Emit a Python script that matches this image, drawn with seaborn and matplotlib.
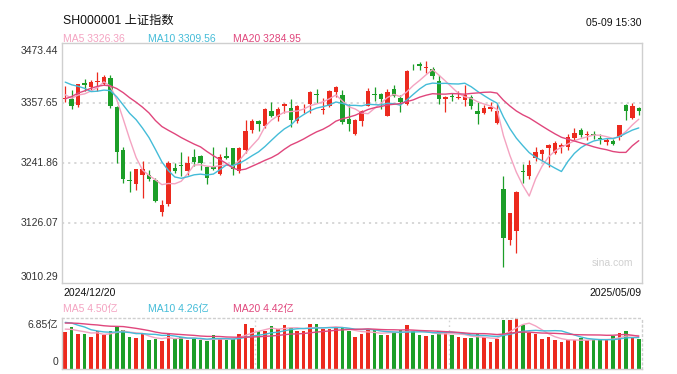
import numpy as np
import pandas as pd
import matplotlib
matplotlib.use("Agg")
import matplotlib.pyplot as plt
import matplotlib.transforms as mtransforms
import seaborn as sns

# ---------------- data ----------------
start_label = "2024/12/20"
end_label = "2025/05/09"
time_label = "05-09 15:30"
title = "SH000001 上证指数"

opens = [3366, 3365, 3353, 3396, 3388, 3398, 3395, 3406, 3349, 3266,
         3209, 3202, 3219, 3219, 3210, 3148, 3163, 3232, 3238, 3226,
         3253, 3256, 3234, 3236, 3221, 3256, 3270, 3226, 3266, 3306,
         3322, 3313, 3343, 3331, 3352, 3348, 3322, 3349, 3356, 3375,
         3344, 3351, 3378, 3374, 3327, 3298, 3323, 3352, 3374, 3375,
         3333, 3385, 3368, 3356, 3428, 3432, 3425, 3424, 3401, 3366,
         3371, 3367, 3363, 3369, 3343, 3338, 3347, 3319, 3192, 3094,
         3110, 3226, 3217, 3252, 3260, 3270, 3261, 3272, 3273, 3291,
         3306, 3296, 3298, 3291, 3283, 3284, 3293, 3354, 3329, 3348]
highs = [3390, 3382, 3395, 3404, 3403, 3417, 3412, 3412, 3351, 3273,
         3226, 3230, 3245, 3228, 3213, 3171, 3245, 3242, 3264, 3256,
         3268, 3258, 3236, 3273, 3259, 3273, 3271, 3272, 3324, 3326,
         3324, 3348, 3359, 3349, 3358, 3365, 3353, 3356, 3381, 3384,
         3367, 3382, 3390, 3382, 3356, 3326, 3345, 3387, 3389, 3377,
         3384, 3392, 3374, 3422, 3433, 3437, 3438, 3427, 3411, 3372,
         3377, 3381, 3393, 3374, 3360, 3353, 3359, 3356, 3216, 3146,
         3188, 3239, 3248, 3273, 3269, 3278, 3284, 3281, 3297, 3309,
         3309, 3303, 3303, 3297, 3290, 3288, 3316, 3356, 3358, 3349]
lows = [3360, 3347, 3350, 3381, 3381, 3380, 3393, 3348, 3242, 3204,
        3185, 3190, 3174, 3208, 3166, 3140, 3158, 3222, 3216, 3219,
        3237, 3229, 3202, 3229, 3219, 3249, 3219, 3223, 3262, 3300,
        3303, 3309, 3330, 3322, 3338, 3312, 3319, 3338, 3338, 3358,
        3337, 3349, 3369, 3318, 3304, 3296, 3314, 3351, 3361, 3347,
        3333, 3370, 3340, 3354, 3422, 3422, 3415, 3404, 3356, 3340,
        3362, 3365, 3351, 3347, 3317, 3337, 3343, 3317, 3041, 3084,
        3069, 3203, 3211, 3245, 3245, 3234, 3260, 3261, 3267, 3287,
        3292, 3287, 3288, 3279, 3277, 3277, 3287, 3324, 3327, 3335]
closes = [3368.07, 3351.26, 3393.53, 3393.35, 3398.08, 3400.14, 3407.33, 3351.76, 3262.56, 3211.43,
          3206.92, 3229.64, 3230.17, 3211.39, 3168.52, 3160.76, 3240.94, 3227.12, 3236.03, 3241.82,
          3244.38, 3242.62, 3213.62, 3230.16, 3252.63, 3250.60, 3229.49, 3270.66, 3303.67, 3322.17,
          3318.06, 3346.39, 3332.48, 3346.72, 3355.83, 3324.49, 3351.54, 3350.78, 3379.11, 3373.03,
          3346.04, 3380.21, 3388.06, 3320.90, 3316.93, 3324.21, 3341.96, 3381.10, 3372.55, 3366.16,
          3379.83, 3371.92, 3358.73, 3419.56, 3426.43, 3429.76, 3426.43, 3408.95, 3364.83, 3370.03,
          3369.98, 3368.70, 3373.75, 3351.31, 3335.75, 3348.44, 3350.13, 3342.01, 3096.58, 3145.55,
          3186.81, 3223.64, 3238.23, 3262.81, 3267.66, 3276.00, 3280.34, 3276.73, 3291.43, 3299.76,
          3296.36, 3297.29, 3295.06, 3288.41, 3286.65, 3279.03, 3316.11, 3342.67, 3352.00, 3342.00]
# closes of the 19 sessions before the first bar (needed for the moving averages)
prior_closes = [3263.76, 3259.76, 3309.78, 3295.70, 3326.46, 3363.98, 3378.81, 3364.65, 3368.86, 3404.08,
                3402.53, 3422.66, 3432.49, 3461.50, 3391.88, 3386.33, 3361.49, 3382.21, 3370.03]

volumes = [4.98, 5.62, 4.66, 4.66, 4.25, 5.11, 4.52, 5.11, 5.62, 5.21,
           4.25, 4.11, 4.70, 3.88, 3.97, 3.74, 4.75, 4.06, 4.25, 3.88,
           3.97, 3.88, 3.74, 4.52, 4.02, 3.88, 4.06, 4.66, 6.03, 5.48,
           5.11, 5.11, 5.75, 5.34, 5.89, 5.57, 5.11, 5.11, 6.03, 6.03,
           5.34, 5.43, 5.57, 5.57, 5.07, 4.25, 4.66, 5.34, 5.25, 4.52,
           4.52, 4.98, 5.21, 5.89, 5.07, 4.52, 4.38, 4.52, 5.16, 5.07,
           4.52, 4.25, 4.11, 4.11, 4.66, 4.25, 3.61, 3.97, 6.58, 6.58,
           6.85, 5.89, 4.89, 4.66, 3.97, 4.25, 3.88, 3.61, 3.88, 3.88,
           4.11, 3.88, 3.97, 3.97, 3.88, 4.38, 4.79, 5.07, 4.25, 3.97]
prior_volumes = [5.6, 5.4, 6.2, 5.9, 6.3, 6.6, 6.4, 6.0, 5.8, 6.6,
                 6.5, 7.6, 7.0, 7.9, 6.8, 5.8, 5.5, 5.4, 5.1]

price_ticks = [3010.29, 3126.07, 3241.86, 3357.65, 3473.44]
price_tick_labels = ["3010.29", "3126.07", "3241.86", "3357.65", "3473.44"]
vol_ticks = [0, 6.85]
vol_tick_labels = ["0", "6.85亿"]

ma_labels_price = ["MA5 3326.36", "MA10 3309.56", "MA20 3284.95"]
ma_labels_vol = ["MA5 4.50亿", "MA10 4.26亿", "MA20 4.42亿"]

# ---------------- styling ----------------
RED = "#ec2a1e"
GREEN = "#1c9e28"
C_MA5 = "#f4a3c1"
C_MA10 = "#44bcd8"
C_MA20 = "#e0467c"
GRID = "#d4d4d4"
BORDER = "#cfcfcf"
TXT = "#333333"
FS = 7.5

sns.set_style("white")
plt.rcParams["font.family"] = ["Liberation Sans", "Noto Sans CJK SC", "DejaVu Sans"]

n = len(closes)
df = pd.DataFrame({"x": np.arange(n), "open": opens, "high": highs,
                   "low": lows, "close": closes, "vol": volumes})
allc = pd.Series(prior_closes + closes)
allv = pd.Series(prior_volumes + volumes)
k = len(prior_closes)
for w in (5, 10, 20):
    df[f"ma{w}"] = allc.rolling(w).mean().iloc[k:].to_numpy()
    df[f"vma{w}"] = allv.rolling(w).mean().iloc[k:].to_numpy()
df["up"] = df["close"] >= df["open"]
colors = np.where(df["up"], RED, GREEN)

W, H = 677, 374
fig = plt.figure(figsize=(W / 100, H / 100), dpi=100)
def fx(p): return p / W
def fy(p): return 1 - p / H

ax = fig.add_axes([fx(62), fy(283), fx(642) - fx(62), fy(43) - fy(283)])
axv = fig.add_axes([fx(62), fy(369), fx(642) - fx(62), fy(318) - fy(369)])

def ylabel(axis, value, text, dy_px):
    """Tick label left of the axis, shifted vertically by dy_px pixels (positive = up)."""
    tr = mtransforms.blended_transform_factory(axis.transAxes, axis.transData)
    tr = tr + mtransforms.ScaledTranslation(-4 / 100, dy_px / 100, fig.dpi_scale_trans)
    axis.text(0, value, text, transform=tr, ha="right", va="center",
              fontsize=FS, color=TXT, clip_on=False)

# ---- price panel ----
ax.set_xlim(-0.5, n - 0.5)
ax.set_ylim(price_ticks[0], price_ticks[-1])
for t in price_ticks[1:-1]:
    ax.axhline(t, color=GRID, lw=1.3, ls=(0, (1.2, 2.2)), zorder=0)

ax.vlines(df["x"], df["low"], df["high"], colors=colors, lw=0.9, zorder=2)
body_bottom = np.minimum(df["open"], df["close"])
body_h = np.maximum(np.abs(df["close"] - df["open"]), 1.6)
ax.bar(df["x"], body_h, bottom=body_bottom, width=0.7, color=colors, lw=0, zorder=3)

sns.lineplot(data=df, x="x", y="ma5", ax=ax, color=C_MA5, lw=1.0, legend=False, zorder=4)
sns.lineplot(data=df, x="x", y="ma10", ax=ax, color=C_MA10, lw=1.0, legend=False, zorder=4)
sns.lineplot(data=df, x="x", y="ma20", ax=ax, color=C_MA20, lw=1.0, legend=False, zorder=4)

ax.set_xlabel("")
ax.set_ylabel("")
ax.set_xticks([])
ax.set_yticks([])
for i, (t, lbl) in enumerate(zip(price_ticks, price_tick_labels)):
    dy = 6 if i == 0 else (-8 if i == len(price_ticks) - 1 else 0)
    ylabel(ax, t, lbl, dy)
for s in ax.spines.values():
    s.set_color(BORDER)
    s.set_linewidth(1.0)
ax.text(0.985, 0.085, "sina.com", transform=ax.transAxes, ha="right", va="center",
        fontsize=7.5, color="#d0d0d0")

# ---- volume panel ----
axv.set_xlim(-0.5, n - 0.5)
axv.set_ylim(vol_ticks[0], vol_ticks[-1])
axv.bar(df["x"], df["vol"], width=0.55, color=colors, lw=0, zorder=2)
sns.lineplot(data=df, x="x", y="vma5", ax=axv, color=C_MA5, lw=1.0, legend=False, zorder=3)
sns.lineplot(data=df, x="x", y="vma10", ax=axv, color=C_MA10, lw=1.0, legend=False, zorder=3)
sns.lineplot(data=df, x="x", y="vma20", ax=axv, color=C_MA20, lw=1.0, legend=False, zorder=3)
for xv in (29.5, 59.5):
    axv.axvline(xv, color=GRID, lw=1.0, ls=(0, (1.2, 2.2)), zorder=0)
axv.set_xlabel("")
axv.set_ylabel("")
axv.set_xticks([])
axv.set_yticks([])
ylabel(axv, vol_ticks[0], vol_tick_labels[0], 7)
ylabel(axv, vol_ticks[1], vol_tick_labels[1], -7)
for name, s in axv.spines.items():
    s.set_color(BORDER)
    s.set_linewidth(1.0)
    if name in ("top", "right"):
        s.set_linestyle((0, (1.2, 2.2)))

# ---- texts ----
fig.text(fx(63), fy(21), title, fontsize=8.8, color="#111111", ha="left", va="center")
fig.text(fx(642), fy(23), time_label, fontsize=FS, color="#111111", ha="right", va="center")
for lbl, xp, c in zip(ma_labels_price, (63, 148, 233), (C_MA5, C_MA10, C_MA20)):
    fig.text(fx(xp), fy(38.5), lbl, fontsize=FS, color=c, ha="left", va="center")
fig.text(fx(63), fy(292.5), start_label, fontsize=FS, color="#111111", ha="left", va="center")
fig.text(fx(642), fy(292.5), end_label, fontsize=FS, color="#111111", ha="right", va="center")
for lbl, xp, c in zip(ma_labels_vol, (63, 148, 233), (C_MA5, C_MA10, C_MA20)):
    fig.text(fx(xp), fy(309), lbl, fontsize=FS, color=c, ha="left", va="center")

fig.savefig("out.png", dpi=100, facecolor="white")
